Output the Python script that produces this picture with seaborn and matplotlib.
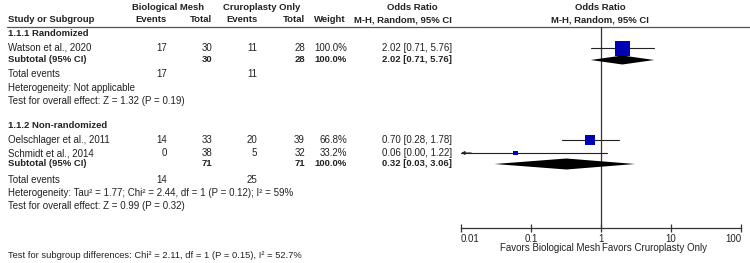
import numpy as np
import matplotlib
matplotlib.use("Agg")
import matplotlib.pyplot as plt
import seaborn as sns

# ---- data ----
groups = ["1.1.1 Randomized", "1.1.2 Non-randomized"]
studies = ["Watson et al., 2020", "Oelschlager et al., 2011", "Schmidt et al., 2014"]
bio_events = [17, 14, 0]
bio_total = [30, 33, 38]
cru_events = [11, 20, 5]
cru_total = [28, 39, 32]
weights = [100.0, 66.8, 33.2]
or_est = [2.02, 0.70, 0.06]
ci_lo = [0.71, 0.28, 0.00]
ci_hi = [5.76, 1.78, 1.22]

sub_bio_total = [30, 71]
sub_cru_total = [28, 71]
sub_bio_events = [17, 14]
sub_cru_events = [11, 25]
sub_or = [2.02, 0.32]
sub_lo = [0.71, 0.03]
sub_hi = [5.76, 3.06]
het_text = ["Heterogeneity: Not applicable",
            "Heterogeneity: Tau\u00b2 = 1.77; Chi\u00b2 = 2.44, df = 1 (P = 0.12); I\u00b2 = 59%"]
effect_text = ["Test for overall effect: Z = 1.32 (P = 0.19)",
               "Test for overall effect: Z = 0.99 (P = 0.32)"]
subgroup_text = "Test for subgroup differences: Chi\u00b2 = 2.11, df = 1 (P = 0.15), I\u00b2 = 52.7%"
ticks = [0.01, 0.1, 1, 10, 100]
tick_labels = ["0.01", "0.1", "1", "10", "100"]
favors = ["Favors Biological Mesh", "Favors Cruroplasty Only"]

# ---- style ----
sns.set_style("white")
plt.rcParams["font.family"] = ["Liberation Sans", "DejaVu Sans"]
FS = 7.0
FSB = 6.8
TXT = "#222222"
BLUE = "#0000b4"

fig = plt.figure(figsize=(7.5, 2.63), dpi=100)
ax = fig.add_axes([0, 0, 1, 1])
ax.set_xlim(0, 750)
ax.set_ylim(263, 0)
ax.axis("off")

fx = fig.add_axes([461 / 750, 0, 280 / 750, 1])
fx.set_xscale("log")
fx.set_xlim(0.01, 100)
fx.set_ylim(263, 0)
fx.patch.set_alpha(0)

def t(x, y, s, ha="left", bold=False, size=None, a=ax):
    if size is None:
        size = FSB if bold else FS
    a.text(x, y, s, ha=ha, va="center", fontsize=size, color=TXT,
           fontweight="bold" if bold else "normal")

# header
t(168, 7, "Biological Mesh", ha="center", bold=True)
t(262, 7, "Cruroplasty Only", ha="center", bold=True)
t(412, 7, "Odds Ratio", ha="center", bold=True)
t(600, 7, "Odds Ratio", ha="center", bold=True)
t(8, 20, "Study or Subgroup", bold=True)
t(167, 20, "Events", ha="right", bold=True)
t(212, 20, "Total", ha="right", bold=True)
t(258, 20, "Events", ha="right", bold=True)
t(305, 20, "Total", ha="right", bold=True)
t(346, 20, "Weight", ha="right", bold=True)
t(452, 20, "M-H, Random, 95% CI", ha="right", bold=True)
t(600, 20, "M-H, Random, 95% CI", ha="center", bold=True)
ax.plot([7, 750], [27, 27], color="#555555", lw=0.9)

# row layout (pixel rows)
group_y = [33, 126]
study_y = [48, 140, 153]
sub_y = [60, 164]
tot_y = [74, 180]
het_y = [88, 193]
eff_y = [101, 206]

for g in range(2):
    t(8, group_y[g], groups[g], bold=True)
    t(8, sub_y[g], "Subtotal (95% CI)", bold=True)
    t(212, sub_y[g], str(sub_bio_total[g]), ha="right", bold=True)
    t(305, sub_y[g], str(sub_cru_total[g]), ha="right", bold=True)
    t(347, sub_y[g], "100.0%", ha="right", bold=True)
    t(452, sub_y[g], f"{sub_or[g]:.2f} [{sub_lo[g]:.2f}, {sub_hi[g]:.2f}]", ha="right", bold=True)
    t(8, tot_y[g], "Total events")
    t(167, tot_y[g], str(sub_bio_events[g]), ha="right")
    t(257, tot_y[g], str(sub_cru_events[g]), ha="right")
    t(8, het_y[g], het_text[g])
    t(8, eff_y[g], effect_text[g])

for i in range(len(studies)):
    y = study_y[i]
    t(8, y, studies[i])
    t(167, y, str(bio_events[i]), ha="right")
    t(212, y, str(bio_total[i]), ha="right")
    t(257, y, str(cru_events[i]), ha="right")
    t(305, y, str(cru_total[i]), ha="right")
    t(347, y, f"{weights[i]:.1f}%", ha="right")
    t(452, y, f"{or_est[i]:.2f} [{ci_lo[i]:.2f}, {ci_hi[i]:.2f}]", ha="right")

t(8, 256, subgroup_text, size=6.75)

# ---- forest panel ----
fx.plot([1, 1], [27, 228], color="#333333", lw=0.9)
for i in range(len(studies)):
    lo = max(ci_lo[i], 0.01)
    fx.plot([lo, ci_hi[i]], [study_y[i], study_y[i]], color="#222222", lw=0.8)
    if ci_lo[i] < 0.01:
        fx.annotate("", xy=(0.01, study_y[i]), xytext=(0.014, study_y[i]),
                    arrowprops=dict(arrowstyle="-|>", color="#222222", lw=0.8,
                                    mutation_scale=5, shrinkA=0, shrinkB=0))

side_pt = [15 * w / 100 * 0.72 for w in weights]
sns.scatterplot(x=or_est, y=study_y, marker="s", s=[p ** 2 for p in side_pt],
                color=BLUE, linewidth=0, ax=fx, legend=False, zorder=3)

half_h = [4.5, 5.5]
for g in range(2):
    y = sub_y[g]
    fx.fill([sub_lo[g], sub_or[g], sub_hi[g], sub_or[g]],
            [y, y - half_h[g], y, y + half_h[g]], color="black", lw=0, zorder=3)

for s in ["top", "right", "left"]:
    fx.spines[s].set_visible(False)
fx.spines["bottom"].set_position(("data", 228))
fx.spines["bottom"].set_color("#333333")
fx.spines["bottom"].set_linewidth(0.9)
fx.set_yticks([])
fx.set_xticks(ticks)
fx.set_xticklabels(tick_labels)
fx.minorticks_off()
fx.tick_params(axis="x", direction="inout", length=6, width=0.9, color="#333333",
               labelsize=FS, labelcolor=TXT, pad=1, bottom=True)
lbls = fx.get_xticklabels()
lbls[0].set_ha("left")
lbls[-1].set_ha("right")
fx.text(0.97, 248, favors[0], ha="right", va="center", fontsize=FS, color=TXT)
fx.text(1.035, 248, favors[1], ha="left", va="center", fontsize=FS, color=TXT)

fig.savefig("out.png", dpi=100)
